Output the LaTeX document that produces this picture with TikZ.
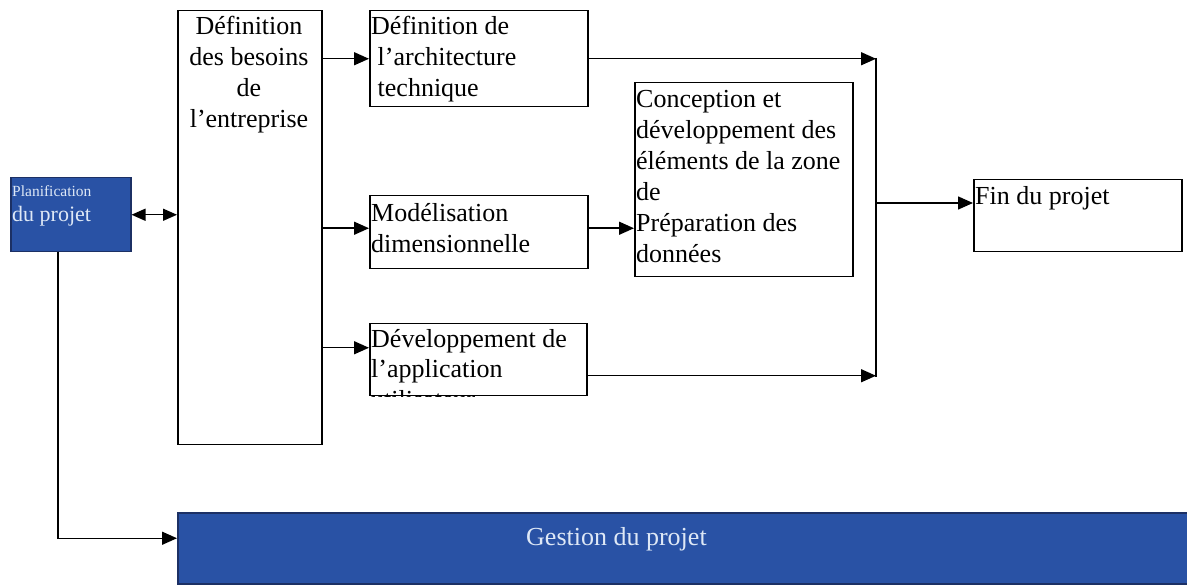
\documentclass[tikz,border=0pt]{standalone}
\usepackage{fontspec}
\setmainfont{Liberation Serif}
\usetikzlibrary{arrows.meta}
\definecolor{planblue}{RGB}{41,82,165}
\definecolor{planedge}{RGB}{28,48,100}
\definecolor{paletext}{RGB}{222,232,246}
\tikzset{
  box/.style={draw=black, line width=1.5pt, rectangle, inner sep=0pt, anchor=north west},
  bluebox/.style={fill=planblue, draw=planedge, line width=1.5pt, rectangle, inner sep=0pt, anchor=north west},
  txt/.style={inner sep=0pt, align=left, font=\fontsize{26}{31}\selectfont},
  flow/.style={line width=1.5pt, -{Triangle[length=15pt,width=13pt]}},
  wire/.style={line width=1.5pt}
}
\begin{document}
\begin{tikzpicture}[x=1pt,y=-1pt]
\useasboundingbox (0,0) rectangle (1187,585);

% boxes
\node[bluebox, minimum width=120, minimum height=74] (plan) at (10,177) {};
\node[box, minimum width=144, minimum height=434] (bes) at (177,10) {};
\node[box, minimum width=218, minimum height=96] (arch) at (369,10) {};
\node[box, minimum width=218, minimum height=73] (mod) at (369,195) {};
\node[box, minimum width=217, minimum height=72] (dev) at (369,323) {};
\node[box, minimum width=218, minimum height=194] (conc) at (634,82) {};
\node[box, minimum width=208, minimum height=72] (fin) at (973,179) {};
\node[bluebox, minimum width=1015, minimum height=71] (gest) at (177,512) {};

% texts (multi-line nodes are placed by the baseline of their last line)
\node[inner sep=0pt, anchor=base west, text=paletext, font=\fontsize{15.5}{18}\selectfont] (plant1) at (12,197) {Planification};
\node[inner sep=0pt, anchor=base west, text=paletext, font=\fontsize{22}{26}\selectfont] (plant2) at (12,222) {du projet};
\node[txt, align=center, anchor=base] (best) at (249,128) {Définition\\des besoins\\de\\l’entreprise};
\node[txt, anchor=base west] (archt) at (371,97) {Définition de\\\ l’architecture\\\ technique};
\node[txt, anchor=base west] (modt) at (371,253) {Modélisation\\dimensionnelle};
\begin{scope}
  \clip (dev.north west) rectangle (dev.south east);
  \node[txt, anchor=base west] (devt) at (371,409) {Développement de\\l’application\\utilisateur};
\end{scope}
\node[txt, anchor=base west] (conct) at (636,263) {Conception et\\développement des\\éléments de la zone\\de\\Préparation des\\données};
\node[txt, anchor=base west] (fint) at (975,205) {Fin du projet};
\node[txt, anchor=base west, text=paletext] (gestt) at (526,545) {Gestion du projet};

% collector line before the end box
\coordinate (ctop) at (876,58);
\coordinate (cbot) at (876,377);
\coordinate (cmid) at (876,203);
\draw[wire] (ctop) -- (cbot);

% connectors
\draw[line width=1.5pt, {Triangle[length=14pt,width=12pt]}-{Triangle[length=14pt,width=12pt]}] (plan.east) -- (plan.east -| bes.west);
\draw[flow] (arch.west -| bes.east) -- (arch.west);
\draw[flow] ([yshift=4pt]mod.west -| bes.east) -- ([yshift=4pt]mod.west);
\draw[flow] ([yshift=12pt]dev.west -| bes.east) -- ([yshift=12pt]dev.west);
\draw[flow] ([yshift=4pt]mod.east) -- ([yshift=4pt]mod.east -| conc.west);
\draw[flow] (arch.east) -- (arch.east -| ctop);
\draw[flow] ([yshift=-16pt]dev.east) -- ([yshift=-16pt]dev.east -| ctop);
\draw[flow] (cmid) -- (cmid -| fin.west);
\draw[flow] ([xshift=-13pt]plan.south) |- ([yshift=10pt]gest.west);
\end{tikzpicture}
\end{document}
